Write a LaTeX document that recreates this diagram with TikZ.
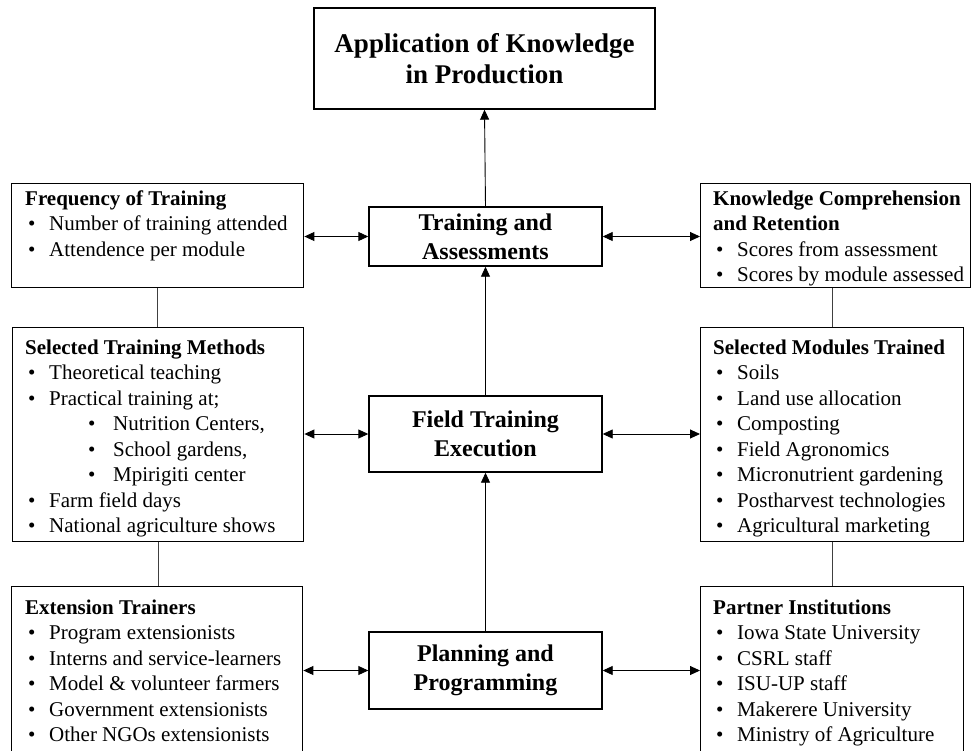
\documentclass[tikz,border=0pt]{standalone}
\usepackage{fontspec}
\setmainfont{Liberation Serif}
\usetikzlibrary{arrows.meta}
\newcommand{\bul}[1]{\hspace*{3pt}\makebox[21pt][l]{\textbullet}#1}
\newcommand{\bulsub}[1]{\hspace*{63pt}\makebox[25pt][l]{\textbullet}#1}
\tikzset{
  box/.style={draw, line width=1.4pt, inner sep=0pt},
  lbl/.style={inner sep=0pt, anchor=base west, font=\fontsize{21}{25.5}\selectfont},
  conn/.style={line width=0.9pt, draw=black!75},
  tip/.tip={Triangle[length=10pt,width=9pt]},
  arr/.style={line width=0.9pt, draw=black, -tip},
  darr/.style={line width=0.9pt, draw=black, tip-tip},
  ctr/.style={box, align=center, minimum width=233pt, font=\bfseries\fontsize{24}{29}\selectfont},
}
\begin{document}
\begin{tikzpicture}[x=1pt,y=-1pt]
\clip (0,0) rectangle (972,750);
\fill[white] (0,0) rectangle (972,750);
% centre column
\node[box, minimum width=341pt, minimum height=101pt, align=center,
      font=\bfseries\fontsize{27}{31}\selectfont] (app) at (484.5,58.5) {Application of Knowledge\\in Production};
\node[ctr, minimum height=59pt] (trn) at (485.5,236.5) {Training and\\Assessments};
\node[ctr, minimum height=76pt] (fld) at (485.5,434) {Field Training\\Execution};
\node[ctr, minimum height=77pt] (pln) at (485.5,670.5) {Planning and\\Programming};
% side boxes
\node[box, anchor=north west, minimum width=292pt, minimum height=104pt] (freq) at (11,183) {};
\node[box, anchor=north west, minimum width=270pt, minimum height=104pt] (know) at (700,183) {};
\node[box, anchor=north west, minimum width=291pt, minimum height=214pt] (meth) at (12,327) {};
\node[box, anchor=north west, minimum width=263pt, minimum height=214pt] (mod) at (700,327) {};
\node[box, anchor=north west, minimum width=291pt, minimum height=180pt] (ext) at (11,586) {};
\node[box, anchor=north west, minimum width=263pt, minimum height=180pt] (part) at (700,586) {};
% side texts
\node[lbl] (freqt) at (25,205) {\parbox[t]{275pt}{\textbf{Frequency of Training}\\
  \bul{Number of training attended}\\\bul{Attendence per module}}};
\node[lbl] (knowt) at (713,205) {\parbox[t]{255pt}{\textbf{Knowledge Comprehension}\\\textbf{and Retention}\\
  \bul{Scores from assessment}\\\bul{Scores by module assessed}}};
\node[lbl] (metht) at (25,354) {\parbox[t]{275pt}{\textbf{Selected Training Methods}\\
  \bul{Theoretical teaching}\\\bul{Practical training at;}\\
  \bulsub{Nutrition Centers,}\\\bulsub{School gardens,}\\\bulsub{Mpirigiti center}\\
  \bul{Farm field days}\\\bul{National agriculture shows}}};
\node[lbl] (modt) at (713,354) {\parbox[t]{250pt}{\textbf{Selected Modules Trained}\\
  \bul{Soils}\\\bul{Land use allocation}\\\bul{Composting}\\\bul{Field Agronomics}\\
  \bul{Micronutrient gardening}\\\bul{Postharvest technologies}\\\bul{Agricultural marketing}}};
\node[lbl] (extt) at (25,614) {\parbox[t]{275pt}{\textbf{Extension Trainers}\\
  \bul{Program extensionists}\\\bul{Interns and service-learners}\\\bul{Model \& volunteer farmers}\\
  \bul{Government extensionists}\\\bul{Other NGOs extensionists}}};
\node[lbl] (partt) at (713,614) {\parbox[t]{250pt}{\textbf{Partner Institutions}\\
  \bul{Iowa State University}\\\bul{CSRL staff}\\\bul{ISU-UP staff}\\
  \bul{Makerere University}\\\bul{Ministry of Agriculture}}};
% vertical arrows
\draw[arr] (trn.north) -- (app.south);
\draw[arr] (fld.north) -- (trn.south);
\draw[arr] (pln.north) -- (fld.south);
% horizontal double arrows
\draw[darr] (trn.west -| freq.east) -- (trn.west);
\draw[darr] (trn.east) -- (trn.east -| know.west);
\draw[darr] (fld.west -| meth.east) -- (fld.west);
\draw[darr] (fld.east) -- (fld.east -| mod.west);
\draw[darr] (pln.west -| ext.east) -- (pln.west);
\draw[darr] (pln.east) -- (pln.east -| part.west);
% side links
\draw[conn] (freq.south) -- (freq.south |- meth.north);
\draw[conn] (meth.south) -- (meth.south |- ext.north);
\draw[conn] (mod.north) -- (mod.north |- know.south);
\draw[conn] (mod.south) -- (mod.south |- part.north);
\end{tikzpicture}
\end{document}
